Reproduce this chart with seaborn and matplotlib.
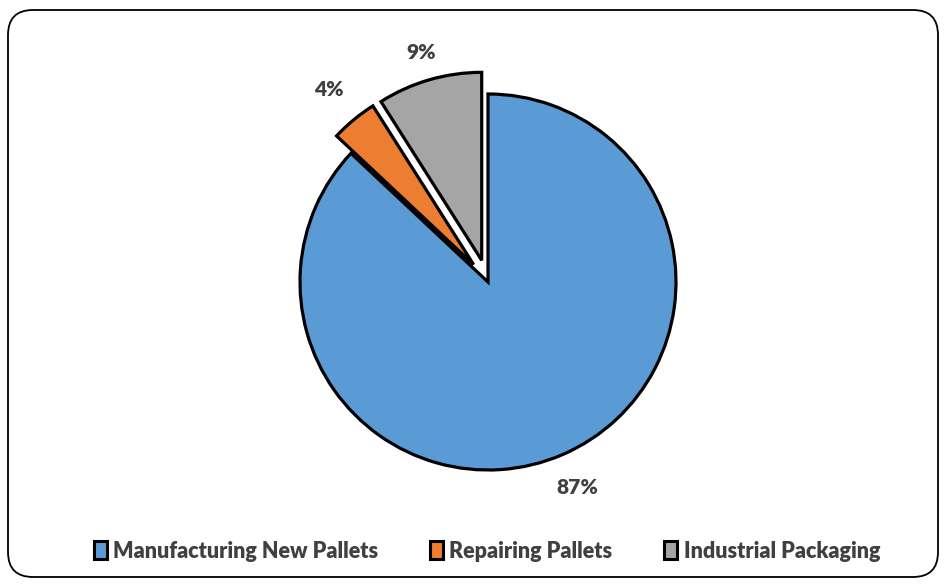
import matplotlib
matplotlib.use("Agg")
import matplotlib.pyplot as plt
import seaborn as sns
import numpy as np
from matplotlib.patches import FancyBboxPatch, Patch

categories = ["Manufacturing New Pallets", "Repairing Pallets", "Industrial Packaging"]
shares = [87, 4, 9]
pct_labels = ["87%", "4%", "9%"]
colors = ["#5B9BD5", "#ED7D31", "#A5A5A5"]
explode = [0.0, 0.12, 0.12]
label_dist = [1.19, 1.21, 1.15]

sns.set_theme(style="white")
plt.rcParams["font.family"] = ["Lato", "DejaVu Sans"]

fig = plt.figure(figsize=(9.44, 5.85), dpi=100)
W, H = 944, 585
cx, cy, R = 488, 585 - 282, 188
bw, bh = 600, 500
ax = fig.add_axes([(cx - bw / 2) / W, (cy - bh / 2) / H, bw / W, bh / H])

wedges, _ = ax.pie(shares, colors=colors, startangle=90, counterclock=False,
                   explode=explode,
                   wedgeprops=dict(edgecolor="black", linewidth=2.3))
for w, lab, e, d in zip(wedges, pct_labels, explode, label_dist):
    mid = np.deg2rad((w.theta1 + w.theta2) / 2)
    r = d + e
    ax.text(r * np.cos(mid), r * np.sin(mid), lab, ha="center", va="center",
            fontsize=15, fontweight="heavy", color="#404040")

ax.set_xlim(-bw / (2 * R), bw / (2 * R))
ax.set_ylim(-bh / (2 * R), bh / (2 * R))
ax.set_aspect("equal")

handles = [Patch(facecolor=c, edgecolor="black", linewidth=2.2) for c in colors]
leg = fig.legend(handles, categories, loc="center", ncol=3,
                 bbox_to_anchor=(487 / 944, (585 - 551) / 585), frameon=False,
                 handlelength=0.6, handleheight=0.9, handletextpad=0.3,
                 columnspacing=2.4, prop=dict(size=15.5, weight="heavy"))
for t in leg.get_texts():
    t.set_color("#404040")

border = FancyBboxPatch((0.08 + 0.25, 0.08 + 0.25), 9.38 - 0.08 - 0.5, 5.75 - 0.08 - 0.5,
                        boxstyle="round,pad=0.25", transform=fig.dpi_scale_trans,
                        facecolor="none", edgecolor="black", linewidth=1.3)
fig.patches.append(border)

fig.savefig("out.png", dpi=100)
